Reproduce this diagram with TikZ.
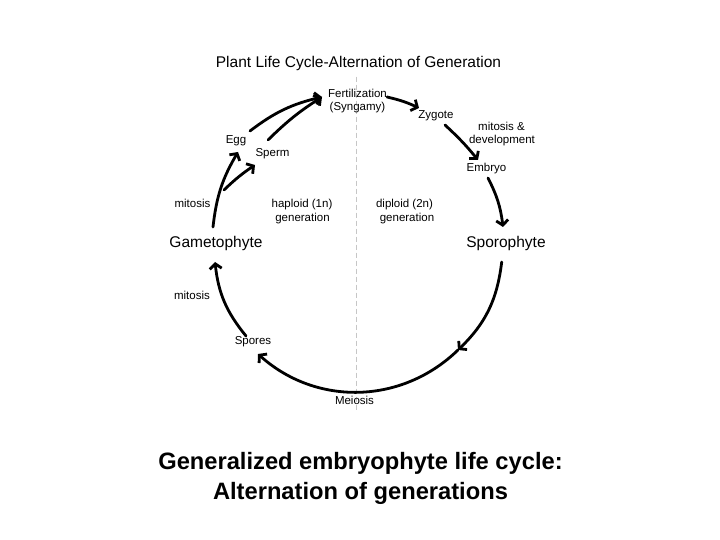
\documentclass[tikz,border=0pt]{standalone}
\usepackage{fontspec}
\setmainfont{Liberation Sans}
\usetikzlibrary{arrows.meta}
\begin{document}
\begin{tikzpicture}[x=1pt,y=1pt,
  lbl/.style={inner sep=0pt, anchor=base, font=\fontsize{11.5}{13}\selectfont},
  big/.style={inner sep=0pt, anchor=base, font=\fontsize{15.5}{18}\selectfont},
  capt/.style={inner sep=0pt, anchor=base, font=\bfseries\fontsize{23.7}{28}\selectfont},
  cyc/.style={line width=2.8pt, line cap=round, -{Straight Barb[length=5pt,width=12pt]}},
  divider/.style={gray!45, line width=0.9pt, dash pattern=on 5pt off 3pt}]
\useasboundingbox (0,0) rectangle (720,540);
\fill[white] (0,0) rectangle (720,540);

% divider
\coordinate (dtop) at (356.7,463.3);
\coordinate (dbot) at (356.7,128.3);
\draw[divider] (dtop) -- (dbot);

% texts
\node[big] (title) at (358.5,472) {Plant Life Cycle-Alternation of Generation};
\node[lbl] (fert) at (357.5,442) {Fertilization};
\node[lbl] (syng) at (357.5,429) {(Syngamy)};
\node[lbl] (zyg) at (436,421.7) {Zygote};
\node[lbl] (mit1) at (501.5,409.3) {mitosis \&};
\node[lbl] (dev) at (502,396.7) {development};
\node[lbl] (emb) at (486.5,368.3) {Embryo};
\node[lbl] (egg) at (236,396.7) {Egg};
\node[lbl] (sperm) at (272.5,383.3) {Sperm};
\node[lbl] (mit2) at (192.5,332.3) {mitosis};
\node[lbl] (hap) at (302,332.3) {haploid (1n)};
\node[lbl] (hapg) at (302.5,318.3) {generation};
\node[lbl] (dip) at (404.5,332.3) {diploid (2n)};
\node[lbl] (dipg) at (407,318.3) {generation};
\node[big] (gam) at (216,292.7) {Gametophyte};
\node[big] (spo) at (506,292.7) {Sporophyte};
\node[lbl] (mit3) at (192,240.7) {mitosis};
\node[lbl] (spr) at (253,195) {Spores};
\node[lbl] (mei) at (354.5,135) {Meiosis};
\node[capt] (cap1) at (360.5,70) {Generalized embryophyte life cycle:};
\node[capt] (cap2) at (360.5,40) {Alternation of generations};

% connector end points
\coordinate (spoA) at (501.7,278);
\coordinate (midA) at (458,190);
\coordinate (sprT) at (258,186);
\coordinate (sprA) at (246,204);
\coordinate (gamT) at (215,278);
\coordinate (gamA) at (213,313);
\coordinate (brA) at (224,350);
\coordinate (eggT) at (238,388);
\coordinate (spmT) at (255,375);
\coordinate (eggA) at (250,409);
\coordinate (spmA) at (268,400);
\coordinate (ferT) at (322,443);
\coordinate (ferA) at (387,443);
\coordinate (zygT) at (419,432);
\coordinate (zygA) at (445,415);
\coordinate (embT) at (478,380);
\coordinate (embA) at (488,362);
\coordinate (spoT) at (503,313);

% connectors
\draw[cyc] (spoA) to[bend left=19.5] (midA);
\draw[cyc] (midA) to[bend left=43] (sprT);
\draw[cyc] (sprA) to[bend left=16.5] (gamT);
\draw[cyc] (gamA) to[bend left=12] (eggT);
\draw[cyc] (brA) to[bend left=5] (spmT);
\draw[cyc] (eggA) to[bend left=12] (ferT);
\draw[cyc] (spmA) to[bend left=6] (ferT);
\draw[cyc] (ferA) to[bend left=6] (zygT);
\draw[cyc] (zygA) to[bend left=4] (embT);
\draw[cyc] (embA) to[bend left=10] (spoT);
\end{tikzpicture}
\end{document}
